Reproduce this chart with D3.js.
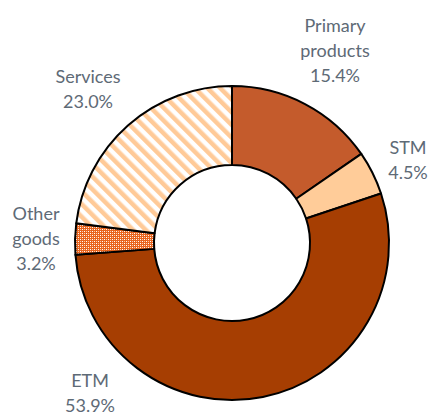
<!DOCTYPE html>
<html>
<head>
<meta charset="utf-8">
<script src="https://cdn.jsdelivr.net/npm/d3@7"></script>
<style>
  body { margin: 0; background: #fff; }
  text { font-family: Lato, "Open Sans", sans-serif; }
</style>
</head>
<body>
<svg id="chart" width="433" height="414"></svg>
<script>
// shares of exports, clockwise from 12 o'clock
let categories = ["Primary products", "STM", "ETM", "Other goods", "Services"];
let values = [15.4, 4.5, 53.9, 3.2, 23.0];
let labelLines = [["Primary", "products"], ["STM"], ["ETM"], ["Other", "goods"], ["Services"]];

// label anchors (centre of the text block), picked to match the layout
let labelPos = [[335, 51], [408, 160], [90, 393], [36, 239], [88, 89]];

let w = 433, h = 414;
let cx = 232, cy = 243, outer = 157, inner = 78;

let svg = d3.select("#chart");
let defs = svg.append("defs");

// wide diagonal stripes for services
let stripes = defs.append("pattern")
    .attr("id", "stripes")
    .attr("patternUnits", "userSpaceOnUse")
    .attr("width", 9).attr("height", 9)
    .attr("patternTransform", "rotate(-45)");
stripes.append("rect").attr("width", 9).attr("height", 9).attr("fill", "#fff");
stripes.append("rect").attr("width", 4.5).attr("height", 9).attr("fill", "#FFCA98");

// small checker for other goods
let checker = defs.append("pattern")
    .attr("id", "checker")
    .attr("patternUnits", "userSpaceOnUse")
    .attr("width", 4).attr("height", 4);
checker.append("rect").attr("width", 4).attr("height", 4).attr("fill", "#E8641E");
checker.append("rect").attr("x", 0).attr("y", 0).attr("width", 1).attr("height", 1).attr("fill", "#fff");
checker.append("rect").attr("x", 2).attr("y", 2).attr("width", 1).attr("height", 1).attr("fill", "#fff");
checker.append("rect").attr("x", 2).attr("y", 0).attr("width", 1).attr("height", 1).attr("fill", "#FBC8A8");
checker.append("rect").attr("x", 0).attr("y", 2).attr("width", 1).attr("height", 1).attr("fill", "#FBC8A8");

let fills = d3.scaleOrdinal()
    .domain(categories)
    .range(["#C45B2C", "#FFCC99", "#A63E02", "url(#checker)", "url(#stripes)"]);

let pie = d3.pie().sort(null).value(d => d.value);
let arc = d3.arc().innerRadius(inner).outerRadius(outer);

let data = categories.map((c, i) => ({ name: c, value: values[i], lines: labelLines[i], pos: labelPos[i] }));

let g = svg.append("g").attr("transform", `translate(${cx},${cy})`);
g.selectAll("path")
    .data(pie(data))
    .enter().append("path")
    .attr("d", arc)
    .attr("fill", d => fills(d.data.name))
    .attr("stroke", "#000")
    .attr("stroke-width", 2)
    .attr("stroke-linejoin", "round");

let lineH = 25;
let labels = svg.append("g").selectAll("text")
    .data(data)
    .enter().append("text")
    .attr("text-anchor", "middle")
    .attr("font-size", 18)
    .attr("fill", "#5E6A76");

labels.each(function (d) {
    let rows = d.lines.concat([d.value.toFixed(1) + "%"]);
    let top = d.pos[1] - (rows.length - 1) * lineH / 2;
    d3.select(this).selectAll("tspan")
        .data(rows)
        .enter().append("tspan")
        .attr("x", d.pos[0])
        .attr("y", (r, i) => top + i * lineH)
        .attr("dy", "0.35em")
        .text(r => r);
});
</script>
</body>
</html>
